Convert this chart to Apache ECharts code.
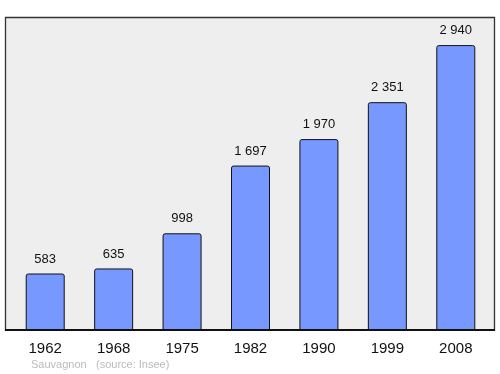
<!DOCTYPE html>
<html><head><meta charset="utf-8">
<script src="https://cdn.jsdelivr.net/npm/echarts@6/dist/echarts.min.js"></script>
<style>html,body{margin:0;padding:0;background:#fff}#c{width:500px;height:374px}</style>
</head><body><div id="c"></div>
<script>
const years = ['1962','1968','1975','1982','1990','1999','2008'];
const population = [583, 635, 998, 1697, 1970, 2351, 2940];
const town = 'Sauvagnon';
const source = '(source: Insee)';

const chart = echarts.init(document.getElementById('c'), null, {renderer:'canvas'});
chart.setOption({
  animation:false,
  graphic:[
    {type:'rect', shape:{x:5.5,y:17.5,width:489,height:312.5}, style:{fill:'#eeeeee', stroke:'#333', lineWidth:1.3}, z:-10},
    {type:'line', shape:{x1:5,y1:330,x2:495,y2:330}, style:{stroke:'#111', lineWidth:1.8}, z:10},
    {type:'text', left:31, top:359, style:{text:town, fill:'#bbbbbb', font:'11px "Liberation Sans", Arial, sans-serif'}},
    {type:'text', left:96, top:359, style:{text:source, fill:'#bbbbbb', font:'11px "Liberation Sans", Arial, sans-serif'}}
  ],
  grid:{left:11, right:10, top:17, bottom:44, containLabel:false},
  xAxis:{type:'category', data:years,
    axisLine:{show:false}, axisTick:{show:false},
    axisLabel:{color:'#111', fontSize:15, margin:11, fontFamily:'Liberation Sans'}},
  yAxis:{type:'value', min:0, max:3230, show:false, splitLine:{show:false}},
  series:[{type:'bar', data:population, barWidth:39,
    itemStyle:{color:'#7799ff', borderColor:'#111', borderWidth:1, borderRadius:[2,2,0,0]},
    label:{show:true, position:'top', distance:8, color:'#111', fontSize:13, fontFamily:'Liberation Sans',
      formatter:p=>String(p.value).replace(/\B(?=(\d{3})+(?!\d))/g,' ')}}]
});
</script></body></html>
